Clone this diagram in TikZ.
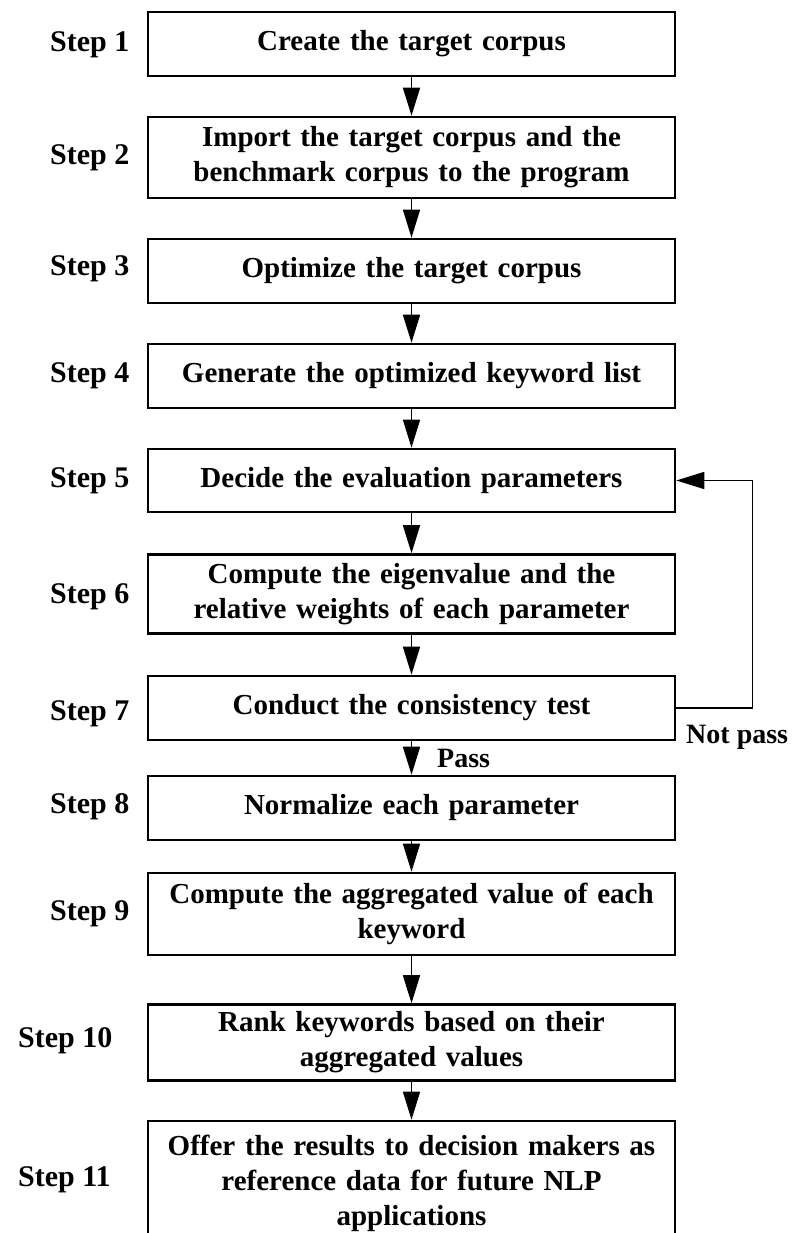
\documentclass[tikz,border=0pt]{standalone}
\usepackage{fontspec}
\setmainfont{Liberation Serif}
\usetikzlibrary{arrows.meta}
\tikzset{
  stepbox/.style={draw, line width=2.6pt, minimum width=527pt, text width=515pt,
    align=center, inner sep=0pt, font=\bfseries\fontsize{29}{35}\selectfont},
  steplabel/.style={anchor=west, inner sep=0pt, font=\bfseries\fontsize{30}{33}\selectfont},
  arr/.style={line width=1.6pt, -{Triangle[length=28pt,width=17pt]}},
  fblabel/.style={anchor=west, inner sep=0pt, font=\bfseries\fontsize{28}{30}\selectfont}
}
\begin{document}
\begin{tikzpicture}[x=1pt,y=-1pt]
\clip (0,0) rectangle (794,1233);
\node[stepbox, minimum height=64pt] (b1) at (411.5,44) {Create the target corpus};
\node[stepbox, minimum height=81pt] (b2) at (411.5,157.5) {Import the target corpus and the\\benchmark corpus to the program};
\node[stepbox, minimum height=64pt] (b3) at (411.5,271) {Optimize the target corpus};
\node[stepbox, minimum height=64pt] (b4) at (411.5,376) {Generate the optimized keyword list};
\node[stepbox, minimum height=63pt] (b5) at (411.5,480.5) {Decide the evaluation parameters};
\node[stepbox, minimum height=79pt] (b6) at (411.5,594) {Compute the eigenvalue and the\\relative weights of each parameter};
\node[stepbox, minimum height=64pt] (b7) at (411.5,708) {Conduct the consistency test};
\node[stepbox, minimum height=64pt] (b8) at (411.5,808) {Normalize each parameter};
\node[stepbox, minimum height=82pt] (b9) at (411.5,914) {Compute the aggregated value of each\\keyword};
\node[stepbox, minimum height=76pt] (b10) at (411.5,1042.5) {Rank keywords based on their\\aggregated values};
\node[stepbox, minimum height=124pt] (b11) at (411.5,1183) {Offer the results to decision makers as\\reference data for future NLP\\applications};

\node[steplabel] (s1) at (50,45) {Step 1};
\node[steplabel] (s2) at (50,158) {Step 2};
\node[steplabel] (s3) at (50,269) {Step 3};
\node[steplabel] (s4) at (50,376) {Step 4};
\node[steplabel] (s5) at (50,481) {Step 5};
\node[steplabel] (s6) at (50,597) {Step 6};
\node[steplabel] (s7) at (50,714) {Step 7};
\node[steplabel] (s8) at (50,807) {Step 8};
\node[steplabel] (s9) at (50,914) {Step 9};
\node[steplabel] (s10) at (18,1041) {Step 10};
\node[steplabel] (s11) at (18,1180) {Step 11};

\draw[arr] (b1.south) -- (b2.north);
\draw[arr] (b2.south) -- (b3.north);
\draw[arr] (b3.south) -- (b4.north);
\draw[arr] (b4.south) -- (b5.north);
\draw[arr] (b5.south) -- (b6.north);
\draw[arr] (b6.south) -- (b7.north);
\draw[arr] (b7.south) -- (b8.north);
\draw[arr] (b8.south) -- (b9.north);
\draw[arr] (b9.south) -- (b10.north);
\draw[arr] (b10.south) -- (b11.north);
\draw[arr] (b7.east) -- ++(76,0) |- (b5.east);

\node[fblabel] (np) at (686,737) {Not pass};
\node[fblabel] (ps) at (437,758) {Pass};
\end{tikzpicture}
\end{document}
